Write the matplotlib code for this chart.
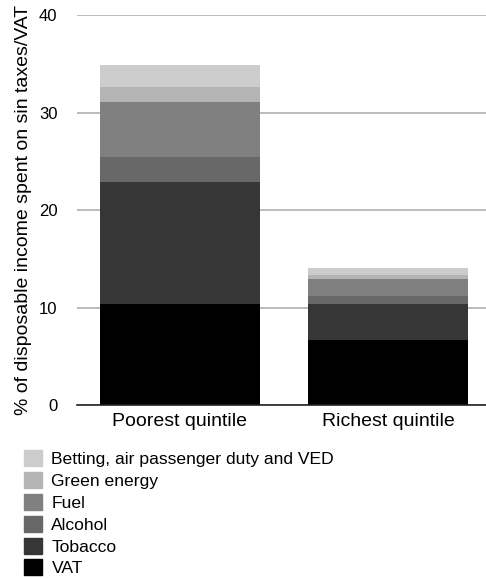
import matplotlib
matplotlib.use("Agg")
import matplotlib.pyplot as plt
from matplotlib.patches import Patch

plt.rcParams['font.family'] = ['Liberation Sans', 'DejaVu Sans']

# Share of disposable income spent on each tax, by quintile
quintiles = ["Poorest quintile", "Richest quintile"]
categories = ["VAT", "Tobacco", "Alcohol", "Fuel", "Green energy",
              "Betting, air passenger duty and VED"]
vat = [10.4, 6.7]
tobacco = [12.5, 3.7]
alcohol = [2.5, 0.8]
fuel = [5.7, 1.7]
green = [1.5, 0.4]
betting = [2.3, 0.75]
shades = ["#000000", "#363636", "#686868", "#808080", "#b4b4b4", "#cccccc"]

series = [vat, tobacco, alcohol, fuel, green, betting]

fig = plt.figure(figsize=(4.86, 5.79), dpi=100)
ax = fig.add_axes([0.158, 0.3005, 0.842, 0.6735])

x = range(len(quintiles))
bottom = [0.0] * len(quintiles)
for vals, col in zip(series, shades):
    ax.bar(x, vals, bottom=bottom, width=0.77, color=col, zorder=3)
    bottom = [b + v for b, v in zip(bottom, vals)]

ax.set_ylim(0, 40)
ax.set_xlim(-0.495, 1.471)
ax.set_yticks([0, 10, 20, 30, 40])
ax.set_xticks(list(x))
ax.set_xticklabels(quintiles)
ax.tick_params(axis='both', length=0)
ax.tick_params(axis='y', pad=14, labelsize=12)
ax.tick_params(axis='x', pad=6, labelsize=14)
ax.yaxis.grid(True, color="#b0b0b0", linewidth=1.2, zorder=0)
for side in ["top", "right", "left"]:
    ax.spines[side].set_visible(False)
ax.spines["bottom"].set_color("#222222")
ax.spines["bottom"].set_linewidth(1.2)
ax.spines["bottom"].set_zorder(4)
ax.set_ylabel("% of disposable income spent on sin taxes/VAT", fontsize=14, labelpad=5)

handles = [Patch(color=c) for c in shades][::-1]
fig.legend(handles, categories[::-1], loc="upper left",
           bbox_to_anchor=(0.049, 0.2228), frameon=False, fontsize=12.6,
           handlelength=1.03, handleheight=1.03, handletextpad=0.55,
           labelspacing=0.28, borderaxespad=0, borderpad=0)

fig.savefig("out.png", dpi=100)
